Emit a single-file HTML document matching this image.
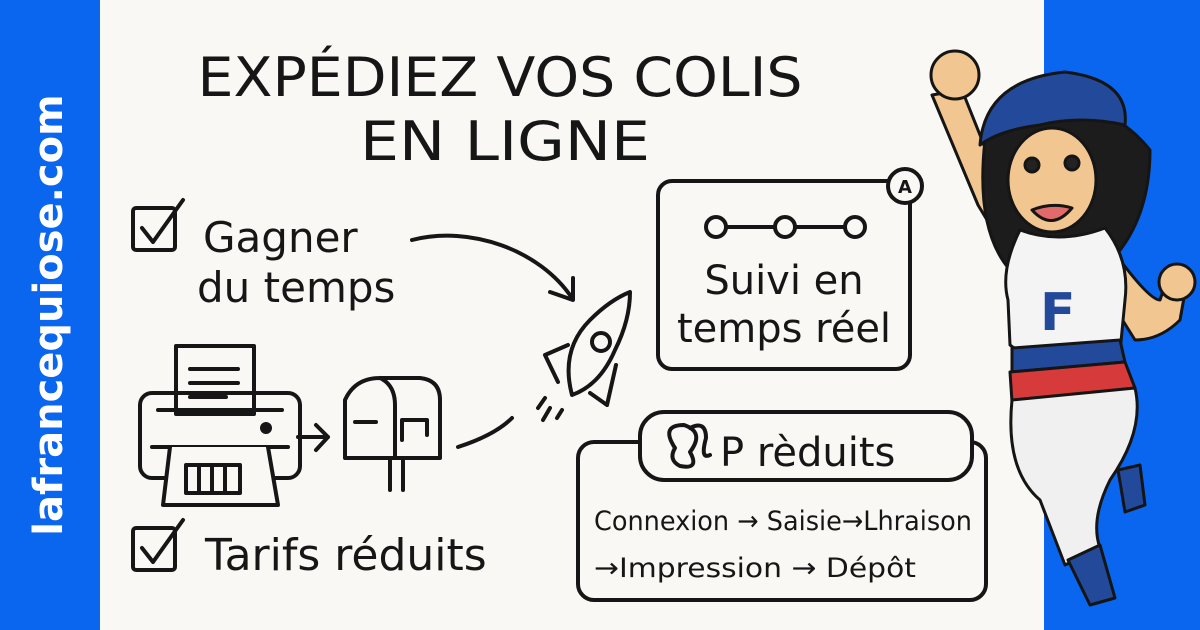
<!DOCTYPE html>
<html><head><meta charset="utf-8"><style>
body{margin:0;width:1200px;height:630px;overflow:hidden;background:#0a66ee}
svg{display:block}
text{font-family:"DejaVu Sans","Liberation Sans",sans-serif;fill:#161616}
</style></head><body>
<svg width="1200" height="630" viewBox="0 0 1200 630">
<rect width="1200" height="630" fill="#0a66ee"/>
<rect x="100" y="0" width="944" height="630" fill="#f9f8f4"/>
<text transform="translate(62,315) rotate(-90)" text-anchor="middle" font-size="40" font-weight="bold" style="fill:#fff">lafrancequiose.com</text>
<g stroke="#161616" stroke-width="4" fill="none" stroke-linecap="round" stroke-linejoin="round">
<rect x="133" y="208" width="42" height="42" rx="3"/>
<path d="M142 228 L153 242 L183 200"/>
<rect x="133" y="528" width="42" height="42" rx="3"/>
<path d="M142 548 L153 562 L183 520"/>
<path d="M412 240 C470 225 540 250 572 298"/>
<path d="M550 292 L573 300 L573 278"/>
<rect x="658" y="181" width="252" height="188" rx="14"/>
<circle cx="905" cy="186" r="17" fill="#f9f8f4"/>
<path d="M727 227 H773 M797 227 H843"/>
<circle cx="716" cy="227" r="10"/><circle cx="785" cy="227" r="10"/><circle cx="855" cy="227" r="10"/>
<rect x="176" y="346" width="78" height="68"/>
<path d="M190 369 H238 M190 383 H238 M190 397 H226"/>
<rect x="140" y="393" width="160" height="85" rx="12"/>
<path d="M158 410 H282 M152 447 H288"/>
<circle cx="266" cy="428" r="4" fill="#161616"/>
<path d="M170 447 L163 505 H278 L268 447" fill="#f9f8f4"/>
<rect x="186" y="465" width="54" height="28"/>
<path d="M199 467 V491 M212 467 V491 M225 467 V491"/>
<path d="M298 437 H328 M316 425 L328 437 L316 450"/>
<path d="M345 458 V400 Q355 378 380 378 H420 Q440 380 440 400 V458 Z M380 378 Q395 385 395 405 V458"/>
<path d="M355 422 H376 M402 440 V420 H427 V435"/>
<path d="M390 460 V490 M403 460 V490"/>
<path d="M458 447 Q495 435 512 418"/>
<path d="M572 395 Q560 350 590 320 Q610 300 630 292 Q630 320 615 350 Q600 385 572 395 Z"/>
<circle cx="601" cy="342" r="9"/>
<path d="M568 345 L545 355 L558 382"/>
<path d="M616 365 L607 405 L590 393"/>
<path d="M545 398 L538 408 M550 408 L543 420 M562 410 L557 418"/>
<rect x="578" y="442" width="408" height="158" rx="16"/>
<rect x="640" y="412" width="332" height="68" rx="24" fill="#f9f8f4"/>
<path d="M675 448 Q660 425 684 425 Q705 432 690 452 Q700 470 680 466 Q668 460 675 448 Z M690 428 Q706 420 706 438 Q700 460 710 455"/>
</g>
<text x="905" y="193" font-size="18" text-anchor="middle" font-weight="bold">A</text>
<text x="500" y="96" font-size="54" text-anchor="middle" textLength="605" lengthAdjust="spacingAndGlyphs">EXPÉDIEZ VOS COLIS</text>
<text x="505" y="160" font-size="54" text-anchor="middle" textLength="290" lengthAdjust="spacingAndGlyphs">EN LIGNE</text>
<text x="203" y="252" font-size="42">Gagner</text>
<text x="197" y="302" font-size="42">du temps</text>
<text x="205" y="570" font-size="44">Tarifs réduits</text>
<text x="784" y="294" font-size="40" text-anchor="middle">Suivi en</text>
<text x="784" y="342" font-size="40" text-anchor="middle">temps réel</text>
<text x="720" y="466" font-size="40">P rèduits</text>
<text x="594" y="530" font-size="27" textLength="378" lengthAdjust="spacingAndGlyphs">Connexion → Saisie→Lhraison</text>
<text x="594" y="577" font-size="27" textLength="322" lengthAdjust="spacingAndGlyphs">→Impression → Dépôt</text>
<g stroke="#151515" stroke-width="3" stroke-linejoin="round">
<path d="M932 95 L962 90 L1000 185 L1018 215 L1005 250 L978 205 Z" fill="#f2c690"/>
<path d="M1120 260 Q1150 300 1160 300 L1165 285 L1185 292 L1180 320 Q1160 340 1135 340 L1110 300 Z" fill="#f2c690"/>
<circle cx="955" cy="75" r="24" fill="#f2c690"/>
<circle cx="1177" cy="282" r="18" fill="#f2c690"/>
<path d="M985 140 Q975 230 1010 270 L1110 262 Q1150 220 1150 150 Q1110 100 1040 100 Z" fill="#1c1c1c"/>
<ellipse cx="1052" cy="180" rx="44" ry="52" fill="#f2c690"/>
<path d="M980 145 Q985 80 1065 72 Q1130 80 1125 125 Q1080 115 1040 125 Q1000 130 980 145 Z" fill="#234a9a"/>
<path d="M1032 210 Q1052 232 1072 208 Q1052 202 1032 210 Z" fill="#e36a6a"/>
<circle cx="1032" cy="165" r="7" fill="#222"/><circle cx="1072" cy="163" r="7" fill="#222"/>
<path d="M1020 230 Q1000 270 1008 300 L1010 345 L1030 360 L1120 352 L1125 300 Q1130 260 1105 228 Q1060 245 1020 230 Z" fill="#f4f4f4"/>
<path d="M1012 348 L1120 340 L1125 362 L1012 372 Z" fill="#234a9a"/>
<path d="M1010 372 L1125 362 L1135 388 L1012 402 Z" fill="#d63a3a"/>
<path d="M1012 400 Q1005 470 1040 500 L1065 565 L1100 548 Q1090 520 1110 480 Q1145 430 1135 388 Z" fill="#f0f0f0"/>
<path d="M1068 560 L1090 605 L1115 598 L1100 545 Z M1118 470 L1125 512 L1145 505 L1140 465 Z" fill="#234a9a"/>
</g>
<text x="1040" y="330" font-size="52" font-weight="bold" style="fill:#234a9a">F</text>
</svg>
</body></html>
